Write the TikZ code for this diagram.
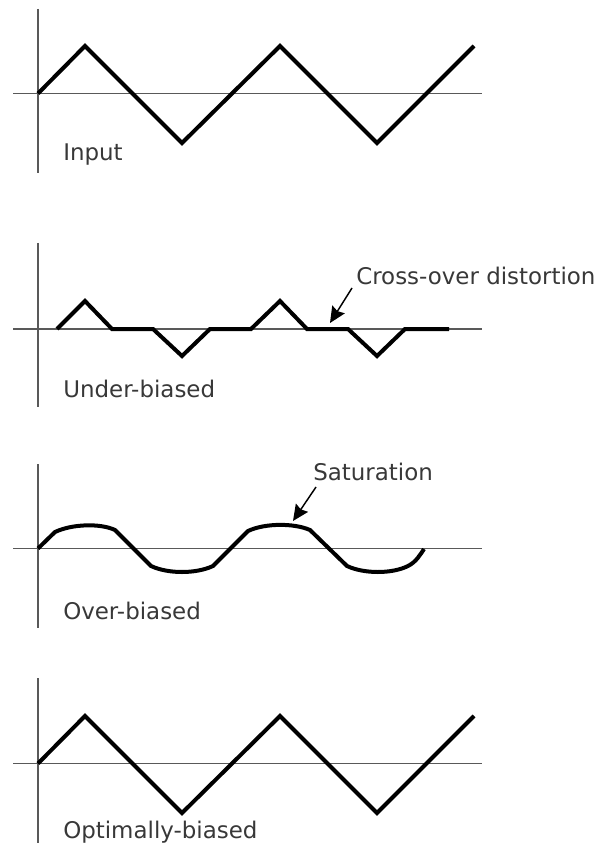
\documentclass[tikz,border=0pt]{standalone}
\usepackage{fontspec}
\setmainfont{DejaVu Sans}
\usetikzlibrary{arrows.meta}
\definecolor{txt}{gray}{0.22}
\definecolor{axc}{gray}{0.35}
\tikzset{
  axis/.style={draw=axc, line width=1.1pt},
  wave/.style={draw=black, line width=3pt, line join=miter},
  lbl/.style={anchor=base west, inner sep=0pt, text=txt, font=\fontsize{17.2}{19}\selectfont},
  callout/.style={draw=black, line width=1.1pt, -{Stealth[length=12pt,width=11pt,inset=1.5pt]}}
}
\begin{document}
\begin{tikzpicture}[x=0.75pt, y=-0.75pt]
\useasboundingbox (0,0) rectangle (600,848);
% ---------- Panel 1: Input
\draw[axis] (38,9) -- (38,173);
\draw[axis] (13,93.5) -- (482,93.5);
\draw[wave] (38,93.5) -- (85,46) -- (182,143) -- (280,46) -- (377,143) -- (474,46);
\node[lbl] (input) at (63,161) {Input};
% ---------- Panel 2: Under-biased
\draw[axis] (38,243) -- (38,407);
\draw[axis] (13,329) -- (482,329);
\draw[wave] (57,329) -- (85,301) -- (112,329) -- (153,329) -- (182,356) -- (210,329)
  -- (251,329) -- (280,301) -- (307,329) -- (348,329) -- (377,356) -- (405,329) -- (449,329);
\node[lbl] (under) at (63,397) {Under-biased};
\node[lbl] (cross) at (356,285) {Cross-over distortion};
\coordinate (crosstail) at (352,288);
\coordinate (crosstip) at (330,323);
\draw[callout] (crosstail) -- (crosstip);
% ---------- Panel 3: Over-biased
\draw[axis] (38,464) -- (38,628);
\draw[axis] (13,548.5) -- (482,548.5);
\draw[wave] (38,548.5) -- (55,532)
  .. controls (72,524) and (100,523) .. (115,530)
  -- (151,566)
  .. controls (168,574) and (196,574) .. (213,566)
  -- (248,531)
  .. controls (265,523) and (294,523) .. (310,530)
  -- (347,566)
  .. controls (364,574) and (392,574) .. (408,566)
  .. controls (416,562) and (420,555) .. (424,549);
\node[lbl] (over) at (63,619) {Over-biased};
\node[lbl] (sat) at (313,480) {Saturation};
\coordinate (sattail) at (316,487);
\coordinate (sattip) at (293,521);
\draw[callout] (sattail) -- (sattip);
% ---------- Panel 4: Optimally-biased
\draw[axis] (38,678) -- (38,843);
\draw[axis] (13,763.5) -- (482,763.5);
\draw[wave] (38,763.5) -- (85,716) -- (182,813) -- (280,716) -- (377,813) -- (474,716);
\node[lbl] (optimal) at (63,838) {Optimally-biased};
\end{tikzpicture}
\end{document}
